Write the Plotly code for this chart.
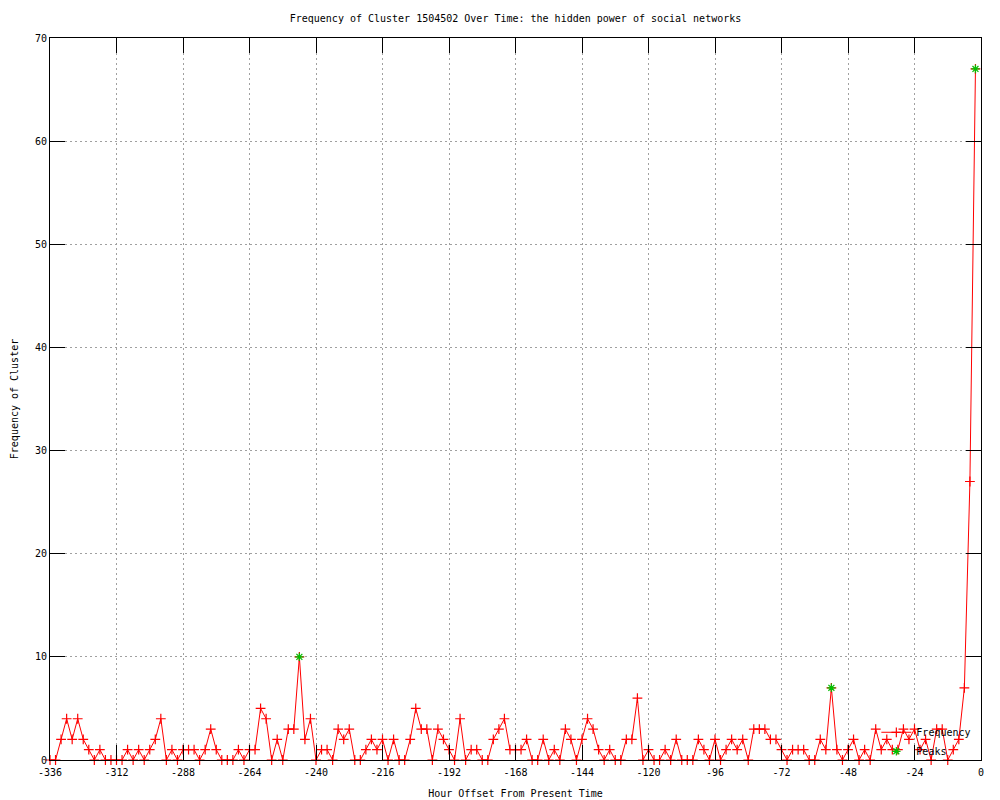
import plotly.graph_objects as go

hours = list(range(-336, 0, 2))
frequency = [
    0, 0, 2, 4, 2, 4, 2, 1, 0, 1, 0, 0, 0, 0, 1, 0, 1, 0, 1, 2,
    4, 0, 1, 0, 1, 1, 1, 0, 1, 3, 1, 0, 0, 0, 1, 0, 1, 1, 5, 4,
    0, 2, 0, 3, 3, 10, 2, 4, 0, 1, 1, 0, 3, 2, 3, 0, 0, 1, 2, 1,
    2, 0, 2, 0, 0, 2, 5, 3, 3, 0, 3, 2, 1, 0, 4, 0, 1, 1, 0, 0,
    2, 3, 4, 1, 1, 1, 2, 0, 0, 2, 0, 1, 0, 3, 2, 0, 2, 4, 3, 1,
    0, 1, 0, 0, 2, 2, 6, 0, 1, 0, 0, 1, 0, 2, 0, 0, 0, 2, 1, 0,
    2, 0, 1, 2, 1, 2, 0, 3, 3, 3, 2, 2, 1, 0, 1, 1, 1, 0, 0, 2,
    1, 7, 1, 0, 1, 2, 0, 1, 0, 3, 1, 2, 1, 1, 3, 2, 3, 1, 2, 0,
    3, 3, 0, 1, 2, 7, 27, 67,
]
peak_hours = [-246, -54, -2]
peak_values = [10, 7, 67]

x_ticks = list(range(-336, 1, 24))
y_ticks = list(range(0, 71, 10))

FONT = "DejaVu Sans Mono"
W, H = 992, 792

fig = go.Figure()
fig.add_trace(go.Scatter(
    x=hours, y=frequency, mode="lines+markers", name="Frequency",
    line=dict(color="#ff0000", width=1),
    marker=dict(symbol="cross-thin-open", size=7,
                line=dict(color="#ff0000", width=1.2), color="#ff0000"),
    cliponaxis=False,
))
fig.add_trace(go.Scatter(
    x=peak_hours, y=peak_values, mode="markers", name="Peaks",
    marker=dict(symbol="asterisk-open", size=7,
                line=dict(color="#00c000", width=1.2), color="#00c000"),
    cliponaxis=False,
))

axis_common = dict(
    showline=True, linecolor="black", linewidth=1, mirror="ticks",
    ticks="inside", ticklen=15, tickcolor="black", tickwidth=1,
    showgrid=True, gridcolor="#a0a0a0", griddash="2px,3px", gridwidth=1,
    zeroline=False, automargin=False,
    tickfont=dict(family=FONT, size=10, color="black"),
)

fig.update_xaxes(
    range=[-336, 0], tickvals=x_ticks, ticktext=[str(v) for v in x_ticks],
    ticklabelstandoff=3,
    title=dict(text="Hour Offset From Present Time",
               font=dict(family=FONT, size=10, color="black"), standoff=12),
    **axis_common,
)
fig.update_yaxes(
    range=[0, 70], tickvals=y_ticks, ticktext=[str(v) for v in y_ticks],
    title=dict(text="Frequency of Cluster",
               font=dict(family=FONT, size=10, color="black"), standoff=14),
    **axis_common,
)

fig.update_layout(
    width=W, height=H,
    margin=dict(l=42, r=19, t=30, b=40, autoexpand=False),
    paper_bgcolor="white", plot_bgcolor="white",
    font=dict(family=FONT, size=10, color="black"),
    title=dict(text="Frequency of Cluster 1504502 Over Time: the hidden power of social networks",
               x=0.5, xref="paper", xanchor="center", y=1 - 10 / H, yanchor="middle",
               font=dict(family=FONT, size=10, color="black")),
    showlegend=True,
    legend=dict(x=0.995, xanchor="right", y=-0.008, yanchor="bottom",
                bgcolor="rgba(0,0,0,0)", borderwidth=0,
                font=dict(family=FONT, size=10, color="black"),
                tracegroupgap=0, itemwidth=30),
)

fig.write_html("out.html")
